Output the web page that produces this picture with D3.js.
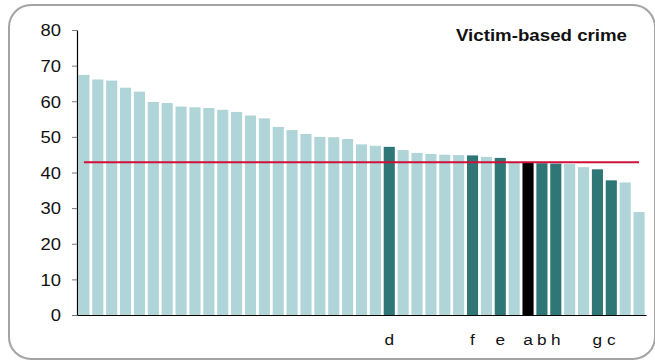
<!DOCTYPE html>
<html>
<head>
<meta charset="utf-8">
<script src="https://cdn.jsdelivr.net/npm/d3@7"></script>
<style>
  html, body { margin: 0; padding: 0; background: #fff; }
  svg { display: block; }
  text { font-family: "Liberation Sans", Arial, Helvetica, sans-serif; fill: #111; }
</style>
</head>
<body>
<svg id="chart" width="655" height="361"></svg>
<script>
// ---- data ----
const categories = d3.range(41).map(i => "c" + i);
const values = [67.4, 66.1, 65.8, 63.8, 62.7, 59.8, 59.5, 58.5, 58.3, 58.1,
                57.6, 57.0, 56.0, 55.2, 52.8, 51.9, 50.8, 50.0, 49.9, 49.4,
                47.9, 47.5, 47.2, 46.3, 45.5, 45.2, 45.0, 44.9, 44.8, 44.4,
                44.1, 42.9, 42.7, 42.6, 42.5, 42.4, 41.5, 40.9, 37.8, 37.2, 28.9];
const labels = ["", "", "", "", "", "", "", "", "", "",
                "", "", "", "", "", "", "", "", "", "",
                "", "", "d", "", "", "", "", "", "f", "",
                "e", "", "a", "b", "h", "", "", "g", "c", "", ""];
// 0 = other, 1 = highlighted, 2 = selected
const groups = [0,0,0,0,0,0,0,0,0,0, 0,0,0,0,0,0,0,0,0,0,
                0,0,1,0,0,0,0,0,1,0, 1,0,2,1,1,0,0,1,1,0, 0];
const average = 42.9;
const yTicks = [0, 10, 20, 30, 40, 50, 60, 70, 80];
const title = "Victim-based crime";

// ---- layout ----
const svg = d3.select("#chart");
const colors = ["#afd5d8", "#2f7677", "#000000"];

svg.append("rect")
  .attr("x", 9).attr("y", 5).attr("width", 646).attr("height", 354)
  .attr("rx", 22).attr("ry", 22)
  .attr("fill", "#fff").attr("stroke", "#a3a3a3").attr("stroke-width", 2);

const mLeft = 77, mRight = 646, mTop = 30, mBottom = 315;

const x = d3.scaleBand().domain(categories).range([mLeft, mRight])
  .paddingInner(0.2).paddingOuter(0.1);
const y = d3.scaleLinear().domain([0, 80]).range([mBottom, mTop]);

// bars
svg.append("g").selectAll("rect")
  .data(categories)
  .join("rect")
  .attr("x", d => x(d))
  .attr("width", x.bandwidth())
  .attr("y", (d, i) => y(values[i]))
  .attr("height", (d, i) => y(0) - y(values[i]))
  .attr("fill", (d, i) => colors[groups[i]]);

// average line
svg.append("line")
  .attr("x1", x(categories[0]) + x.bandwidth() / 2)
  .attr("x2", x(categories[categories.length - 1]) + x.bandwidth() / 2)
  .attr("y1", y(average)).attr("y2", y(average))
  .attr("stroke", "#d0103a").attr("stroke-width", 2);

// y axis
const yAxis = svg.append("g")
  .attr("transform", `translate(${mLeft},0)`)
  .call(d3.axisLeft(y).tickValues(yTicks).tickSize(5).tickPadding(0).tickSizeOuter(0));
yAxis.select(".domain").attr("stroke", "#000").attr("stroke-width", 1.2);
yAxis.selectAll(".tick line").attr("stroke", "#777");
yAxis.selectAll(".tick text")
  .attr("x", 0).attr("dy", "0.36em")
  .attr("font-size", 16)
  .attr("fill", "#111")
  .attr("font-family", "Liberation Sans, Arial, sans-serif")
  .attr("transform", "translate(-16,0) scale(1.15,1)");

// x axis line
const xAxis = svg.append("g")
  .attr("transform", `translate(0,${mBottom})`)
  .call(d3.axisBottom(x).tickSize(0).tickFormat((d, i) => labels[i]).tickPadding(0));
xAxis.select(".domain").attr("stroke", "#000").attr("stroke-width", 1.2);
xAxis.selectAll(".tick text")
  .attr("y", 0).attr("dy", 0)
  .attr("font-size", 15)
  .attr("fill", "#111")
  .attr("font-family", "Liberation Sans, Arial, sans-serif")
  .attr("transform", "translate(0,30) scale(1.15,1)");

// title
svg.append("text")
  .attr("x", 456).attr("y", 41)
  .attr("font-size", 17).attr("font-weight", "bold")
  .attr("textLength", 171).attr("lengthAdjust", "spacingAndGlyphs")
  .text(title);
</script>
</body>
</html>
